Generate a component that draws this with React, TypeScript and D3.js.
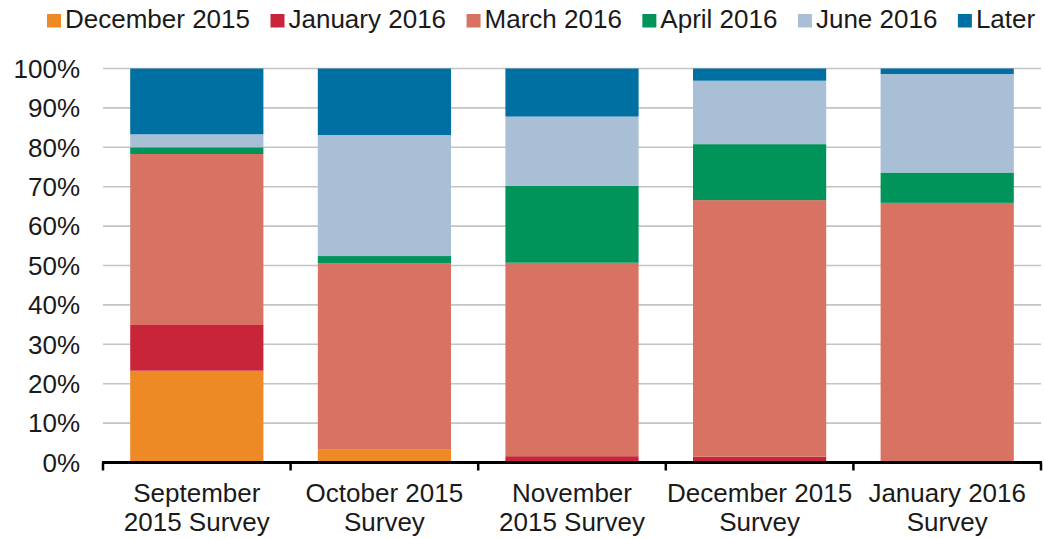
import React from "react";
import * as d3 from "d3";

const categories = [
  ["September", "2015 Survey"],
  ["October 2015", "Survey"],
  ["November", "2015 Survey"],
  ["December 2015", "Survey"],
  ["January 2016", "Survey"],
];
const seriesNames = ["December 2015", "January 2016", "March 2016", "April 2016", "June 2016", "Later"];
const seriesColors = ["#EE8A25", "#C8243A", "#D87363", "#00945B", "#A9BFD6", "#0070A2"];

const dec2015 = [23.3, 3.4, 0, 0, 0];
const jan2016 = [11.6, 0, 1.6, 1.5, 0];
const mar2016 = [43.4, 47.2, 49.1, 65.1, 65.9];
const apr2016 = [1.7, 1.8, 19.5, 14.2, 7.7];
const jun2016 = [3.3, 30.7, 17.6, 16.1, 25.0];
const later = [16.7, 16.9, 12.2, 3.1, 1.4];

const yTicks = [0, 10, 20, 30, 40, 50, 60, 70, 80, 90, 100];

const W = 1044;
const H = 539;
const FONT = "'Liberation Sans', Arial, sans-serif";
const FS = 26;

function measure(text: string): number {
  const c = document.createElement("canvas").getContext("2d");
  if (!c) return text.length * FS * 0.55;
  c.font = `${FS}px 'Liberation Sans'`;
  return c.measureText(text).width;
}

export default function App() {
  const series = [dec2015, jan2016, mar2016, apr2016, jun2016, later];
  const keys = categories.map((c) => c.join(" "));
  const rows = keys.map((k, i) => {
    const r: any = { cat: k };
    seriesNames.forEach((s, j) => (r[s] = series[j][i]));
    return r;
  });
  const stacked = d3.stack().keys(seriesNames)(rows);

  const x = d3.scaleBand().domain(keys).range([103, 1041]).paddingInner(0.29).paddingOuter(0.145);
  const y = d3.scaleLinear().domain([0, 100]).range([462.5, 68.5]);

  // legend flow layout
  let lx = 47;
  const legendItems = seriesNames.map((s, i) => {
    const item = { name: s, color: seriesColors[i], x: lx };
    lx += 14 + 4 + measure(s) + 20.5;
    return item;
  });

  const step = x.step();
  const tickXs = d3.range(keys.length + 1).map((i) => 103 + i * step);

  return (
    <svg width={W} height={H} style={{ position: "absolute", left: 0, top: 0, background: "#fff" }} fontFamily={FONT}>
      <rect x={0} y={0} width={W} height={H} fill="#fff" />
      {/* legend */}
      {legendItems.map((it) => (
        <g key={it.name}>
          <rect x={it.x} y={14} width={14} height={13.5} fill={it.color} />
          <text x={it.x + 18} y={28} fontSize={FS} fill="#1a1a1a">{it.name}</text>
        </g>
      ))}
      {/* grid */}
      {yTicks.filter((t) => t > 0).map((t) => (
        <line key={t} x1={103} x2={1041} y1={y(t)} y2={y(t)} stroke="#C4C4C4" strokeWidth={1.6} />
      ))}
      {/* bars */}
      {stacked.map((layer, j) => (
        <g key={layer.key} fill={seriesColors[j]}>
          {layer.map((d, i) => {
            const h = y(d[0]) - y(d[1]);
            if (h <= 0) return null;
            return <rect key={i} x={x(keys[i])} y={y(d[1])} width={x.bandwidth()} height={h} />;
          })}
        </g>
      ))}
      {/* y labels */}
      {yTicks.map((t) => (
        <text key={t} x={80} y={y(t) + 9.3} textAnchor="end" fontSize={FS} fill="#1a1a1a">{t}%</text>
      ))}
      {/* x axis */}
      <line x1={102} x2={1042} y1={y(0)} y2={y(0)} stroke="#000" strokeWidth={3} />
      {tickXs.map((tx, i) => (
        <line key={i} x1={tx} x2={tx} y1={y(0)} y2={y(0) + 8} stroke="#000" strokeWidth={2.5} />
      ))}
      {categories.map((c, i) => (
        <text key={i} textAnchor="middle" fontSize={FS} fill="#1a1a1a">
          <tspan x={(x(keys[i]) as number) + x.bandwidth() / 2} y={502}>{c[0]}</tspan>
          <tspan x={(x(keys[i]) as number) + x.bandwidth() / 2} y={531}>{c[1]}</tspan>
        </text>
      ))}
    </svg>
  );
}
